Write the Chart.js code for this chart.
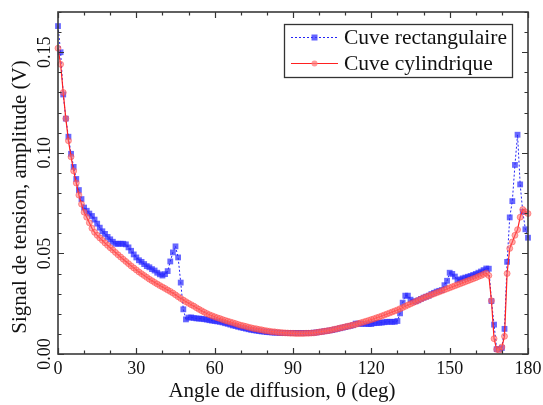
<!DOCTYPE html>
<html>
<head>
<meta charset="utf-8">
<script src="https://cdn.jsdelivr.net/npm/chart.js@4/dist/chart.umd.min.js"></script>
<style>
  html, body { margin: 0; padding: 0; background: #fff; }
  canvas { display: block; }
</style>
</head>
<body>
<canvas id="signalChart" width="543" height="405"></canvas>
<script>
// scattering angle (deg)
const angles = [
  0,1,2,3,4,5,6,7,8,9,10,11,12,13,14,15,16,17,18,19,20,21,22,23,24,25,26,27,28,29,
  30,31,32,33,34,35,36,37,38,39,40,41,42,43,44,45,46,47,48,49,50,51,52,53,54,55,56,57,58,59,
  60,61,62,63,64,65,66,67,68,69,70,71,72,73,74,75,76,77,78,79,80,81,82,83,84,85,86,87,88,89,
  90,91,92,93,94,95,96,97,98,99,100,101,102,103,104,105,106,107,108,109,110,111,112,113,114,115,116,117,118,119,
  120,121,122,123,124,125,126,127,128,129,130,131,132,133,134,135,136,137,138,139,140,141,142,143,144,145,146,147,148,149,
  150,151,152,153,154,155,156,157,158,159,160,161,162,163,164,165,166,167,168,169,170,171,172,173,174,175,176,177,178,179,180
];

// Cuve rectangulaire (V)
const rectValues = [
  0.163,0.150,0.129,0.117,0.108,0.0995,0.093,0.087,0.0815,0.077,
  0.0728,0.0712,0.0698,0.0686,0.0668,0.0648,0.0628,0.061,0.0597,0.0582,
  0.057,0.0558,0.0548,0.0548,0.0548,0.0548,0.0545,0.053,0.0513,0.0495,
  0.048,0.0466,0.0458,0.0447,0.0437,0.0431,0.0422,0.0415,0.0404,0.0396,
  0.039,0.0397,0.0412,0.046,0.0505,0.0535,0.048,0.0355,0.0222,0.0172,
  0.0181,0.0182,0.0179,0.0177,0.0176,0.0175,0.0173,0.0171,0.0168,0.0166,
  0.0164,0.0162,0.016,0.0157,0.0153,0.015,0.0146,0.0142,0.0139,0.0135,
  0.0132,0.0129,0.0126,0.0123,0.012,0.0118,0.0116,0.0114,0.0112,0.0111,
  0.0109,0.0108,0.0107,0.0106,0.0106,0.0105,0.0105,0.0105,0.0104,0.0104,
  0.0104,0.0104,0.0104,0.0104,0.0104,0.0104,0.0105,0.0105,0.0106,0.0107,
  0.0109,0.0111,0.0113,0.0115,0.0117,0.0119,0.0122,0.0125,0.0128,0.0131,
  0.0134,0.0137,0.014,0.0143,0.0151,0.0151,0.015,0.015,0.015,0.0149,
  0.0149,0.0153,0.0154,0.0155,0.0156,0.0158,0.016,0.016,0.016,0.016,
  0.0164,0.0202,0.0255,0.029,0.029,0.027,0.026,0.0262,0.0267,0.0274,
  0.028,0.0285,0.029,0.0298,0.0304,0.031,0.0314,0.0318,0.0342,0.0364,
  0.0404,0.0398,0.0385,0.0367,0.0371,0.0376,0.038,0.0384,0.0388,0.0393,
  0.0398,0.0404,0.041,0.0417,0.0425,0.0424,0.0263,0.0146,0.0024,0.0023,
  0.003,0.0125,0.0458,0.0679,0.076,0.094,0.109,0.0843,0.0707,0.062,
  0.0578
];

// Cuve cylindrique (V)
const cylValues = [
  0.152,0.144,0.130,0.117,0.106,0.098,0.091,0.085,0.079,0.0745,
  0.0705,0.068,0.0652,0.0625,0.0605,0.059,0.0577,0.0565,0.0552,0.054,
  0.0528,0.0517,0.0505,0.0493,0.0482,0.0471,0.046,0.0449,0.0438,0.0428,
  0.0418,0.0408,0.0399,0.039,0.0381,0.0372,0.0364,0.0356,0.0348,0.034,
  0.0333,0.0326,0.0318,0.0311,0.0303,0.0294,0.0285,0.0276,0.0268,0.026,
  0.0252,0.0245,0.0238,0.023,0.0222,0.0215,0.0208,0.0201,0.0195,0.019,
  0.0185,0.018,0.0176,0.0171,0.0167,0.0163,0.0159,0.0155,0.0151,0.0147,
  0.0143,0.014,0.0137,0.0133,0.013,0.0127,0.0125,0.0122,0.012,0.0117,
  0.0115,0.0113,0.0111,0.011,0.0108,0.0107,0.0106,0.0105,0.0104,0.0103,
  0.0103,0.0102,0.0102,0.0102,0.0102,0.0103,0.0103,0.0104,0.0105,0.0107,
  0.0109,0.0111,0.0113,0.0115,0.0117,0.012,0.0123,0.0126,0.0129,0.0132,
  0.0135,0.0138,0.0141,0.0144,0.0147,0.0151,0.0155,0.0159,0.0163,0.0167,
  0.0171,0.0175,0.018,0.0184,0.0189,0.0194,0.0199,0.0204,0.0209,0.0214,
  0.0219,0.0225,0.0231,0.0237,0.0243,0.0249,0.0255,0.0261,0.0267,0.0273,
  0.0279,0.0284,0.0289,0.0294,0.0299,0.0304,0.0309,0.0314,0.0319,0.0324,
  0.0329,0.0334,0.0339,0.0344,0.0349,0.0354,0.0359,0.0364,0.0369,0.0374,
  0.0379,0.0385,0.039,0.0396,0.0402,0.039,0.0265,0.0076,0.0023,0.0019,
  0.0035,0.0088,0.040,0.0525,0.0557,0.059,0.0618,0.068,0.0718,0.0707,
  0.0698
];

const seriesNames = ['Cuve rectangulaire', 'Cuve cylindrique'];
const xTicks = [0, 30, 60, 90, 120, 150, 180];
const yTicks = [0.00, 0.05, 0.10, 0.15];
const xTitle = 'Angle de diffusion, \u03b8 (deg)';
const yTitle = 'Signal de tension, amplitude (V)';

const SERIF = '"Liberation Serif", "DejaVu Serif", serif';
const BLUE = '#2323f5';
const RED = '#ff2020';

// frame, inward ticks, tick labels, titles and legend
const decorPlugin = {
  id: 'decor',
  afterDraw(chart) {
    const ctx = chart.ctx;
    const a = chart.chartArea;
    const xs = chart.scales.x;
    const ys = chart.scales.y;
    ctx.save();

    // ticks
    ctx.strokeStyle = '#333';
    ctx.lineWidth = 1.2;
    ctx.beginPath();
    for (let v = 0; v <= 180; v += 10) {
      const px = Math.round(xs.getPixelForValue(v)) + 0.5;
      const len = xTicks.includes(v) ? 6 : 3.5;
      ctx.moveTo(px, a.bottom); ctx.lineTo(px, a.bottom - len);
      ctx.moveTo(px, a.top); ctx.lineTo(px, a.top + len);
    }
    for (let i = 0; i <= 17; i++) {
      const v = i / 100;
      const py = Math.round(ys.getPixelForValue(v)) + 0.5;
      const len = i % 5 === 0 ? 6 : 3.5;
      ctx.moveTo(a.left, py); ctx.lineTo(a.left + len, py);
      ctx.moveTo(a.right, py); ctx.lineTo(a.right - len, py);
    }
    ctx.stroke();

    // frame
    ctx.lineWidth = 1.6;
    ctx.strokeStyle = '#3a3a3a';
    ctx.strokeRect(a.left, a.top, a.right - a.left, a.bottom - a.top);

    // tick labels
    ctx.fillStyle = '#111';
    ctx.font = '18px ' + SERIF;
    ctx.textAlign = 'center';
    ctx.textBaseline = 'alphabetic';
    xTicks.forEach(v => {
      ctx.fillText(String(v), xs.getPixelForValue(v), 374);
    });
    yTicks.forEach(v => {
      ctx.save();
      ctx.translate(50, ys.getPixelForValue(v));
      ctx.rotate(-Math.PI / 2);
      ctx.textBaseline = 'alphabetic';
      ctx.fillText(v.toFixed(2), 0, 0);
      ctx.restore();
    });

    // axis titles
    ctx.font = '21px ' + SERIF;
    ctx.fillText(xTitle, 282, 397);
    ctx.save();
    ctx.translate(26, 197);
    ctx.rotate(-Math.PI / 2);
    ctx.fillText(yTitle, 0, 0);
    ctx.restore();

    // legend
    ctx.fillStyle = '#fff';
    ctx.fillRect(284, 24, 228, 53);
    ctx.lineWidth = 1.3;
    ctx.strokeStyle = '#333';
    ctx.strokeRect(284.5, 24.5, 228, 53);

    const rows = [37, 63];
    // rectangular: dotted blue with square marker
    ctx.strokeStyle = BLUE;
    ctx.lineWidth = 1;
    ctx.setLineDash([2, 2]);
    ctx.beginPath(); ctx.moveTo(291, rows[0] + 0.5); ctx.lineTo(338, rows[0] + 0.5); ctx.stroke();
    ctx.setLineDash([]);
    ctx.fillStyle = 'rgba(60,60,255,0.8)';
    ctx.fillRect(311.5, rows[0] - 2.5, 6, 6);
    // cylindrical: solid red with circle marker
    ctx.strokeStyle = RED;
    ctx.lineWidth = 1.2;
    ctx.beginPath(); ctx.moveTo(291, rows[1] + 0.5); ctx.lineTo(338, rows[1] + 0.5); ctx.stroke();
    ctx.fillStyle = 'rgba(255,120,120,0.75)';
    ctx.beginPath(); ctx.arc(314.5, rows[1] + 0.5, 3, 0, Math.PI * 2); ctx.fill();

    ctx.fillStyle = '#111';
    ctx.font = '21.5px ' + SERIF;
    ctx.textAlign = 'left';
    ctx.textBaseline = 'middle';
    ctx.fillText(seriesNames[0], 344, rows[0] + 1);
    ctx.fillText(seriesNames[1], 344, rows[1] + 1);

    ctx.restore();
  }
};

const ctx = document.getElementById('signalChart').getContext('2d');
new Chart(ctx, {
  type: 'line',
  data: {
    datasets: [
      {
        label: seriesNames[0],
        data: angles.map((a, i) => ({ x: a, y: rectValues[i] })),
        borderColor: BLUE,
        borderWidth: 1,
        borderDash: [2, 2],
        pointStyle: 'rect',
        pointRadius: 4.1,
        pointBorderWidth: 0,
        pointBackgroundColor: 'rgba(40,40,255,0.7)',
        tension: 0,
        clip: false,
        order: 1
      },
      {
        label: seriesNames[1],
        data: angles.map((a, i) => ({ x: a, y: cylValues[i] })),
        borderColor: RED,
        borderWidth: 1.2,
        pointStyle: 'circle',
        pointRadius: 3,
        pointBorderWidth: 0.8,
        pointBorderColor: 'rgba(255,60,60,0.6)',
        pointBackgroundColor: 'rgba(255,110,110,0.55)',
        tension: 0,
        clip: false,
        order: 0
      }
    ]
  },
  options: {
    responsive: false,
    animation: false,
    devicePixelRatio: 1,
    layout: { padding: { left: 58, right: 15, top: 12, bottom: 51 } },
    plugins: { legend: { display: false }, tooltip: { enabled: false } },
    scales: {
      x: { type: 'linear', min: 0, max: 180, display: false },
      y: { type: 'linear', min: 0, max: 0.17, display: false }
    }
  },
  plugins: [decorPlugin]
});
</script>
</body>
</html>
